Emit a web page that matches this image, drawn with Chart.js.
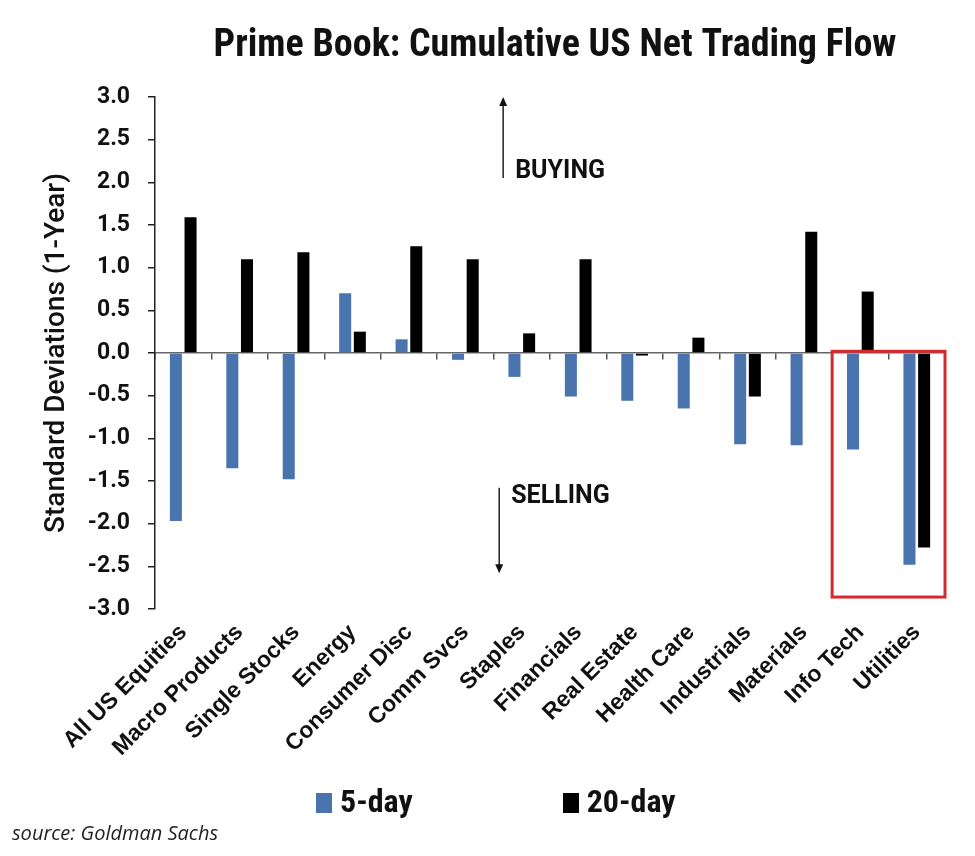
<!DOCTYPE html>
<html>
<head>
<meta charset="utf-8">
<script src="https://cdn.jsdelivr.net/npm/chart.js@4"></script>
<style>
  body { margin: 0; background: #fff; }
  #wrap { position: relative; width: 975px; height: 856px; }
  #legend { position: absolute; left: 316px; top: 782px; display: flex; gap: 150px;
    font: bold 32px "Liberation Sans Narrow", "Roboto Condensed", "DejaVu Sans Condensed", sans-serif; color: #111; }
  #legend span.box { display: inline-block; width: 16px; height: 20px; margin-right: 8px; vertical-align: -1px; }
  #source { position: absolute; left: 12px; top: 819px; font: italic 20px "Open Sans", sans-serif; color: #222; }
</style>
</head>
<body>
<div id="wrap">
  <canvas id="myChart" width="975" height="856"></canvas>
  <div id="legend"></div>
  <div id="source">source: Goldman Sachs</div>
</div>
<script>
var categories = ['All US Equities', 'Macro Products', 'Single Stocks', 'Energy', 'Consumer Disc', 'Comm Svcs',
	'Staples', 'Financials', 'Real Estate', 'Health Care', 'Industrials', 'Materials', 'Info Tech', 'Utilities'];
var fiveDay = [-1.97, -1.35, -1.48, 0.70, 0.16, -0.08, -0.28, -0.51, -0.56, -0.65, -1.07, -1.08, -1.13, -2.48];
var twentyDay = [1.59, 1.10, 1.18, 0.25, 1.25, 1.10, 0.23, 1.10, -0.03, 0.18, -0.51, 1.42, 0.72, -2.28];
var yTicks = [3.0, 2.5, 2.0, 1.5, 1.0, 0.5, 0.0, -0.5, -1.0, -1.5, -2.0, -2.5, -3.0];

var seriesNames = ['5-day', '20-day'];
var seriesColors = ['#4a74ad', '#000000'];

// annotation placement (category index / y value), not data
var notes = {
	buy: { x: 5.67, from: 2.05, to: 3.0, label: 'BUYING', ty: 2.12 },
	sell: { x: 5.6, from: -1.58, to: -2.58, label: 'SELLING', ty: -1.68 },
	box: { x0: 11.5, x1: 13.5, y0: 0.02, y1: -2.86 },
};

var narrow = '"Liberation Sans Narrow", "Roboto Condensed", "DejaVu Sans Condensed", sans-serif';

var extras = {
	id: 'extras',
	afterDraw: function (chart) {
		var ctx = chart.ctx;
		var xs = chart.scales.x;
		var ys = chart.scales.y;
		var area = chart.chartArea;
		ctx.save();

		// title
		ctx.fillStyle = '#111';
		ctx.font = 'bold 38px ' + narrow;
		ctx.textAlign = 'center';
		ctx.textBaseline = 'middle';
		ctx.fillText('Prime Book: Cumulative US Net Trading Flow', (area.left + area.right) / 2 + 5, 46);

		// arrows
		[notes.buy, notes.sell].forEach(function (n) {
			var px = xs.getPixelForValue(n.x);
			var y0 = ys.getPixelForValue(n.from);
			var y1 = ys.getPixelForValue(n.to);
			var dir = y1 < y0 ? -1 : 1;
			ctx.strokeStyle = '#222';
			ctx.lineWidth = 1.5;
			ctx.beginPath();
			ctx.moveTo(px, y0);
			ctx.lineTo(px, y1 - dir * 8);
			ctx.stroke();
			ctx.fillStyle = '#111';
			ctx.beginPath();
			ctx.moveTo(px, y1);
			ctx.lineTo(px - 4, y1 - dir * 9);
			ctx.lineTo(px + 4, y1 - dir * 9);
			ctx.closePath();
			ctx.fill();
			ctx.font = 'bold 25px Roboto, "Liberation Sans", sans-serif';
			ctx.textAlign = 'left';
			ctx.fillText(n.label, px + 12, ys.getPixelForValue(n.ty));
		});

		// highlight box
		var b = notes.box;
		ctx.strokeStyle = '#d42a2f';
		ctx.lineWidth = 3;
		var left = xs.getPixelForValue(b.x0);
		var right = xs.getPixelForValue(b.x1);
		var top = ys.getPixelForValue(b.y0);
		var bottom = ys.getPixelForValue(b.y1);
		ctx.strokeRect(left, top, right - left, bottom - top);
		ctx.restore();
	},
};

var chart = new Chart('myChart', {
	type: 'bar',
	data: {
		labels: categories,
		datasets: [
			{ label: seriesNames[0], data: fiveDay, backgroundColor: seriesColors[0] },
			{ label: seriesNames[1], data: twentyDay, backgroundColor: seriesColors[1] },
		],
	},
	options: {
		responsive: false,
		animation: false,
		devicePixelRatio: 1,
		categoryPercentage: 0.52,
		barPercentage: 0.82,
		layout: { padding: { top: 97, right: 30, bottom: 77, left: 0 } },
		plugins: {
			legend: { display: false },
			title: { display: false },
			tooltip: { enabled: false },
		},
		scales: {
			x: {
				offset: true,
				grid: { display: false, offset: true },
				border: { display: false },
				ticks: {
					autoSkip: false,
					maxRotation: 45,
					minRotation: 45,
					padding: 2,
					color: '#111',
					font: { family: '"Liberation Sans", Arial, sans-serif', size: 23, weight: 'bold' },
				},
				afterFit: function (scale) { scale.height = 170; },
			},
			x2: {
				type: 'category',
				labels: categories,
				position: { y: 0 },
				offset: true,
				grid: { offset: true, drawOnChartArea: false, tickLength: 6, color: '#555', lineWidth: 1.5 },
				border: { color: '#666', width: 1.5 },
				ticks: { display: false },
				afterFit: function (scale) { scale.height = 0; },
			},
			y: {
				min: -3,
				max: 3,
				afterBuildTicks: function (scale) {
					scale.ticks = yTicks.map(function (v) { return { value: v }; });
				},
				grid: { drawOnChartArea: false, tickLength: 7, color: '#222', lineWidth: 1.5 },
				border: { color: '#222', width: 1.5 },
				ticks: {
					padding: 18,
					color: '#111',
					font: { family: 'Roboto, "Liberation Sans", sans-serif', size: 23, weight: 'bold' },
					callback: function (v) { return Number(v).toFixed(1); },
				},
				title: {
					display: true,
					text: 'Standard Deviations (1-Year)',
					color: '#111',
					padding: { top: 40, bottom: 0 },
					font: { family: 'Roboto, "Liberation Sans", sans-serif', size: 28, weight: '500' },
				},
				afterFit: function (scale) { scale.width = 155; },
			},
		},
	},
	plugins: [extras],
});

// legend built from the datasets
var legendEl = document.getElementById('legend');
chart.data.datasets.forEach(function (ds) {
	var item = document.createElement('div');
	var box = document.createElement('span');
	box.className = 'box';
	box.style.background = ds.backgroundColor;
	item.appendChild(box);
	item.appendChild(document.createTextNode(ds.label));
	legendEl.appendChild(item);
});
</script>
</body>
</html>
